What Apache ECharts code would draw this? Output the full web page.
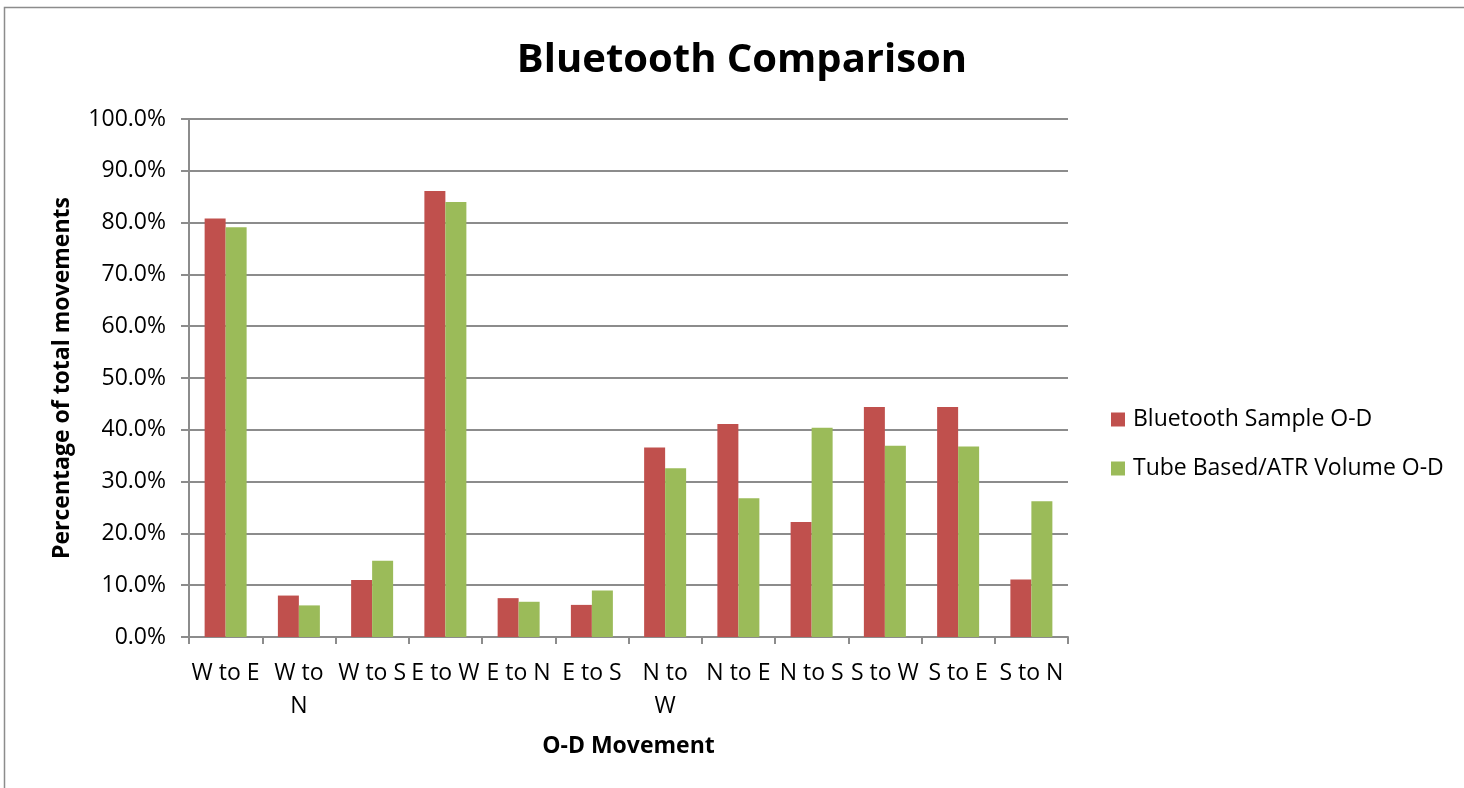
<!DOCTYPE html>
<html>
<head>
<meta charset="utf-8">
<script src="https://cdn.jsdelivr.net/npm/echarts@6/dist/echarts.min.js"></script>
<style>
  html, body { margin: 0; padding: 0; background: #fff; }
  #chart { width: 1464px; height: 788px; }
</style>
</head>
<body>
<div id="chart"></div>
<script>
// O-D movement categories
const categories = ['W to E', 'W to N', 'W to S', 'E to W', 'E to N', 'E to S',
                    'N to W', 'N to E', 'N to S', 'S to W', 'S to E', 'S to N'];
// Share of total movements (%)
const bluetoothSample = [80.8, 8.0, 11.0, 86.1, 7.5, 6.2, 36.6, 41.1, 22.2, 44.4, 44.4, 11.1];
const tubeAtrVolume   = [79.1, 6.1, 14.7, 84.0, 6.8, 9.0, 32.6, 26.8, 40.4, 36.9, 36.8, 26.2];
// Labels that wrap onto two lines under the axis
const wrappedLabels = ['W to N', 'N to W'];

const FONT = 'Open Sans';
const chart = echarts.init(document.getElementById('chart'));

chart.setOption({
  animation: false,
  textStyle: { fontFamily: FONT },
  title: {
    text: 'Bluetooth Comparison',
    left: 742, top: 41, textAlign: 'center', padding: 0,
    textStyle: { fontFamily: FONT, fontSize: 40, fontWeight: 'bold', color: '#000' }
  },
  grid: { left: 189, right: 396, top: 119, bottom: 151, containLabel: false },
  legend: {
    orient: 'vertical',
    left: 1111, top: 408, padding: 0,
    itemWidth: 14, itemHeight: 14,
    itemGap: 26,
    icon: 'rect',
    textStyle: { fontFamily: FONT, fontSize: 23, color: '#000', padding: [0, 0, 0, 3] },
    data: ['Bluetooth Sample O-D', 'Tube Based/ATR Volume O-D']
  },
  graphic: [{
    type: 'rect', silent: true,
    shape: { x: 4.5, y: 7.5, width: 1500, height: 800 },
    style: { fill: 'none', stroke: '#8c8c8c', lineWidth: 1.5 }
  }],
  xAxis: {
    type: 'category',
    data: categories,
    name: 'O-D Movement',
    nameLocation: 'middle',
    nameGap: 98,
    nameTextStyle: { fontFamily: FONT, fontSize: 23, fontWeight: 'bold', color: '#000' },
    axisLine: { lineStyle: { color: '#8c8c8c', width: 2 } },
    axisTick: { show: true, length: 7, lineStyle: { color: '#8c8c8c', width: 2 } },
    axisLabel: {
      interval: 0, margin: 20, color: '#000', fontSize: 23, lineHeight: 33,
      fontFamily: FONT,
      formatter: v => wrappedLabels.includes(v) ? v.replace(/ (\S+)$/, '\n$1') : v
    }
  },
  yAxis: {
    type: 'value',
    min: 0, max: 100, interval: 10,
    name: 'Percentage of total movements',
    nameLocation: 'middle',
    nameGap: 115,
    nameRotate: 90,
    nameTextStyle: { fontFamily: FONT, fontSize: 23, fontWeight: 'bold', color: '#000' },
    axisLine: { show: true, lineStyle: { color: '#8c8c8c', width: 2 } },
    axisTick: { show: true, length: 8, lineStyle: { color: '#8c8c8c', width: 2 } },
    splitLine: { lineStyle: { color: '#8c8c8c', width: 2 } },
    axisLabel: {
      margin: 23, color: '#000', fontSize: 23, fontFamily: FONT,
      formatter: v => v.toFixed(1) + '%'
    }
  },
  series: [
    {
      name: 'Bluetooth Sample O-D', type: 'bar', data: bluetoothSample,
      barWidth: 21, barGap: '0%',
      itemStyle: { color: '#C0504D' }
    },
    {
      name: 'Tube Based/ATR Volume O-D', type: 'bar', data: tubeAtrVolume,
      barWidth: 21, barGap: '0%',
      itemStyle: { color: '#9BBB59' }
    }
  ]
});
</script>
</body>
</html>
